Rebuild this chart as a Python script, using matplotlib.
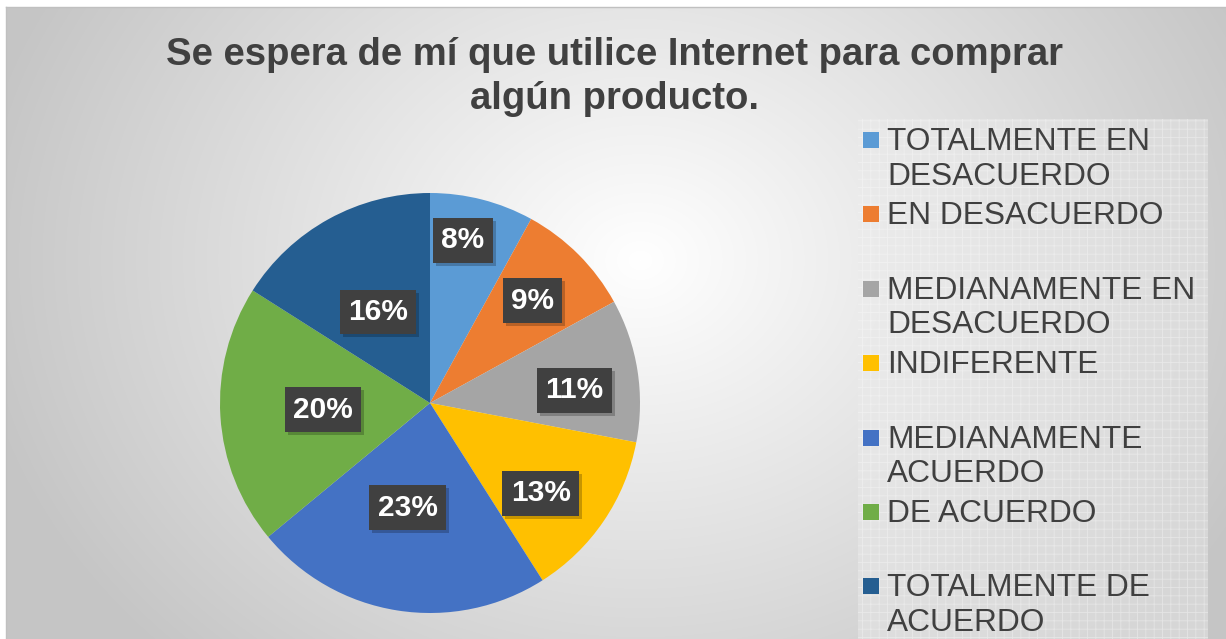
import numpy as np
import matplotlib
matplotlib.use("Agg")
import matplotlib.pyplot as plt
from matplotlib.patches import Rectangle

TITLE = "Se espera de mí que utilice Internet para comprar\nalgún producto."
CATEGORIES = [
    "TOTALMENTE EN\nDESACUERDO",
    "EN DESACUERDO",
    "MEDIANAMENTE EN\nDESACUERDO",
    "INDIFERENTE",
    "MEDIANAMENTE\nACUERDO",
    "DE ACUERDO",
    "TOTALMENTE DE\nACUERDO",
]
PERCENTS = [8, 9, 11, 13, 23, 20, 16]
COLORS = ["#5B9BD5", "#ED7D31", "#A5A5A5", "#FFC000", "#4472C4", "#70AD47", "#255E91"]
# data label placement ("best fit" in the original): radius fraction, angle nudge (deg)
LABEL_R = [0.79, 0.69, 0.69, 0.68, 0.51, 0.51, 0.50]
LABEL_DANG = [3, 0, -4, -5, -3, 0, 1]

W, H = 1226, 639
plt.rcParams["font.family"] = ["Liberation Sans", "DejaVu Sans"]
fig = plt.figure(figsize=(W / 100, H / 100), dpi=100)

# ── background: white margin, thin border, radial grey gradient ──
bg = fig.add_axes([0, 0, 1, 1])
bg.set_xlim(0, W)
bg.set_ylim(H, 0)
bg.axis("off")
yy, xx = np.mgrid[0:H, 0:W]
r = np.sqrt(((xx - 640) / 680.0) ** 2 + ((yy - 260) / 560.0) ** 2)
val = 255 - 58 * np.clip(r, 0, 1)
img = np.dstack([val, val, val]) / 255.0
img[:7, :, :] = 1.0
img[:, :6, :] = 1.0
bg.imshow(img, extent=[0, W, H, 0], aspect="auto", interpolation="bilinear", zorder=0)
bg.plot([6, W], [7, 7], color="#c0c0c0", lw=1, zorder=1)
bg.plot([6, 6], [7, H], color="#c0c0c0", lw=1, zorder=1)

# legend panel with faint grid pattern
plt.rcParams["hatch.color"] = (1, 1, 1, 0.35)
plt.rcParams["hatch.linewidth"] = 0.6
bg.add_patch(Rectangle((858, 119), 350, 530, facecolor=(0.92, 0.92, 0.92, 0.45),
                       edgecolor=(1, 1, 1, 0.35), lw=0, hatch="++", zorder=1))

# ── title ──
fig.text(615 / W, 1 - 37 / H, TITLE, ha="center", va="top", fontsize=27.5,
         fontweight="bold", color="#404040", linespacing=1.3)

# ── pie ──
cx, cy, R = 430, 403, 210
ax = fig.add_axes([(cx - R) / W, (H - cy - R) / H, 2 * R / W, 2 * R / H])
wedges, _ = ax.pie(PERCENTS, colors=COLORS, startangle=90, counterclock=False,
                   radius=1.0, wedgeprops=dict(linewidth=0))
ax.set_xlim(-1, 1)
ax.set_ylim(-1, 1)
ax.set_aspect("equal")
ax.axis("off")

labels = []
for w, p, lr, da in zip(wedges, PERCENTS, LABEL_R, LABEL_DANG):
    ang = np.deg2rad((w.theta1 + w.theta2) / 2 + da)
    x, y = lr * np.cos(ang), lr * np.sin(ang)
    t = ax.text(x, y, f"{p}%", ha="center", va="center", fontsize=21.5, fontweight="bold",
                color="white", zorder=5,
                bbox=dict(boxstyle="square,pad=0.28", facecolor="#404040", edgecolor="none"))
    labels.append(t)

# soft drop shadow behind each label box
fig.canvas.draw()
inv = ax.transData.inverted()
for t in labels:
    bb = t.get_bbox_patch().get_window_extent()
    p0 = inv.transform((bb.x0 + 3, bb.y0 - 3))
    p1 = inv.transform((bb.x1 + 3, bb.y1 - 3))
    ax.add_patch(Rectangle(p0, *(p1 - p0), facecolor=(0, 0, 0, 0.22),
                           edgecolor="none", zorder=4))

# ── legend ──
ly0, step = 140, 74.4
for i, (cat, col) in enumerate(zip(CATEGORIES, COLORS)):
    ycen = ly0 + i * step
    bg.add_patch(Rectangle((863, ycen - 8), 16, 16, facecolor=col, edgecolor="none", zorder=3))
    bg.text(887, ycen - 13, cat, ha="left", va="top", fontsize=22.8, color="#404040",
            linespacing=1.2, zorder=3)

fig.savefig("out.png", dpi=100)
